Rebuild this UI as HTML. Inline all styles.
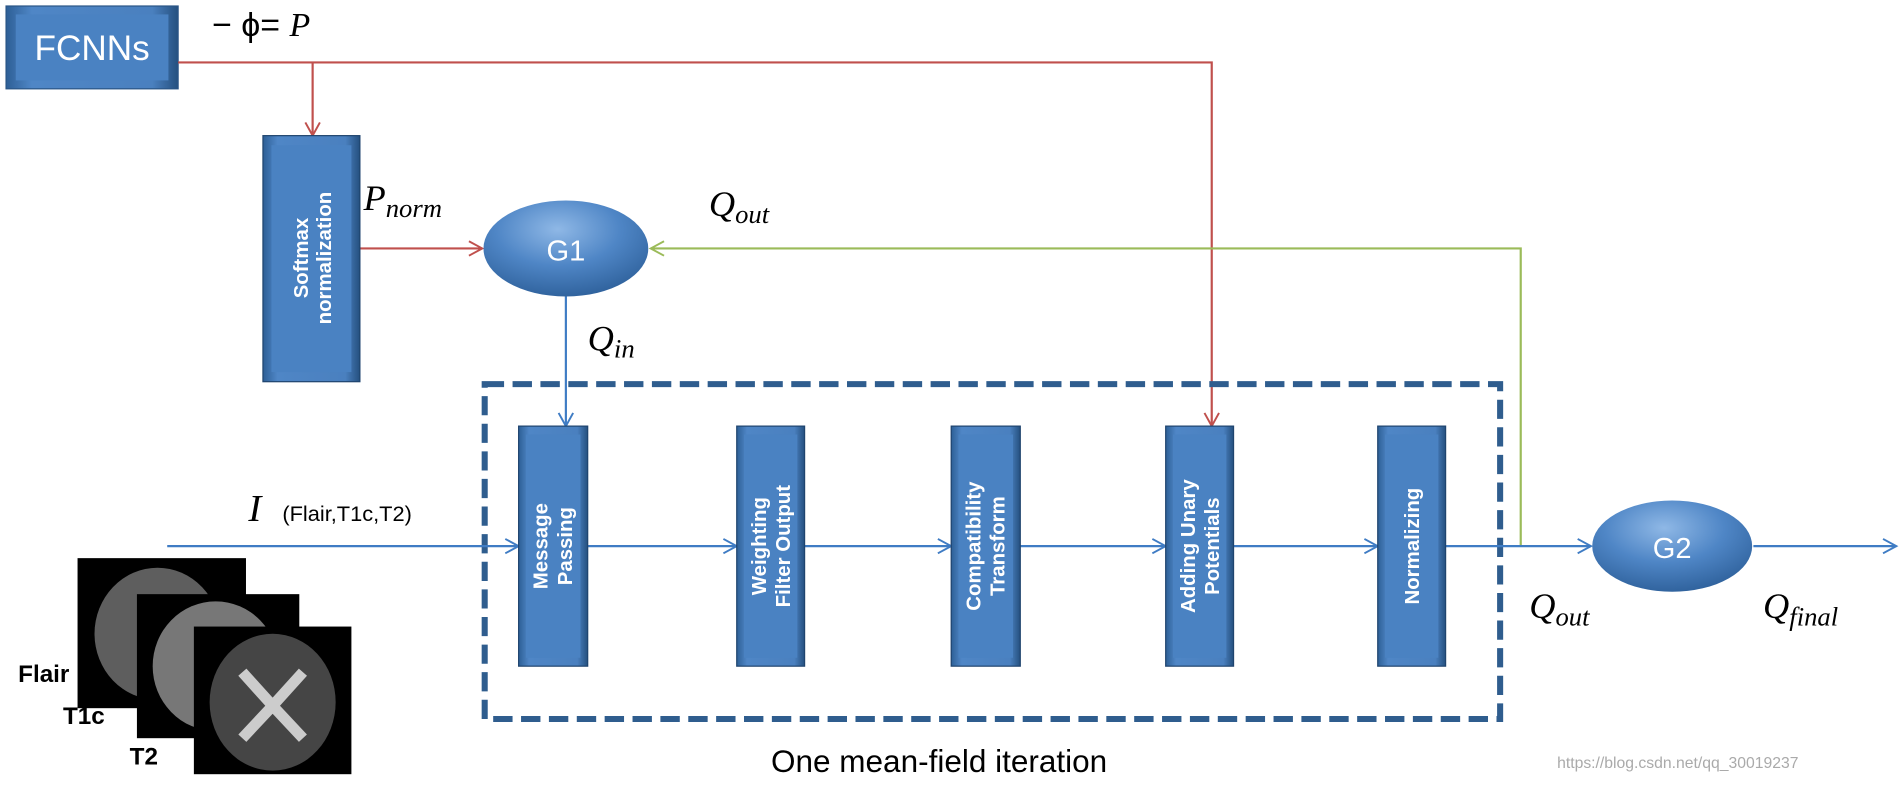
<!DOCTYPE html>
<html><head><meta charset="utf-8"><style>
html,body{margin:0;padding:0;background:#fff;}
svg{display:block;}
text{font-family:"Liberation Sans",sans-serif;}
.m{font-family:"Liberation Serif",serif;font-style:italic;}
.bt{fill:#fff;font-weight:bold;font-size:17px;}
</style></head><body>
<svg width="1900" height="785" viewBox="0 0 1568 654" preserveAspectRatio="none" xmlns="http://www.w3.org/2000/svg">
<defs>
<linearGradient id="bx" x1="0" y1="0" x2="1" y2="0">
<stop offset="0" stop-color="#2d5f96"/><stop offset="0.15" stop-color="#4f86c6"/><stop offset="0.85" stop-color="#4a80bf"/><stop offset="1" stop-color="#25507f"/>
</linearGradient>
<radialGradient id="el" cx="0.45" cy="0.3" r="0.75">
<stop offset="0" stop-color="#8fb8e6"/><stop offset="0.5" stop-color="#4f86c6"/><stop offset="1" stop-color="#2c5e98"/>
</radialGradient>
<marker id="ar" markerWidth="14" markerHeight="14" refX="12" refY="7" orient="auto" markerUnits="userSpaceOnUse"><path d="M1,1 L12,7 L1,13" fill="none" stroke="#3f7cc4" stroke-width="1.6"/></marker>
<marker id="arr" markerWidth="14" markerHeight="14" refX="12" refY="7" orient="auto" markerUnits="userSpaceOnUse"><path d="M1,1 L12,7 L1,13" fill="none" stroke="#c0504d" stroke-width="1.6"/></marker>
<marker id="arg" markerWidth="14" markerHeight="14" refX="12" refY="7" orient="auto" markerUnits="userSpaceOnUse"><path d="M1,1 L12,7 L1,13" fill="none" stroke="#9bbb59" stroke-width="1.6"/></marker>
</defs>

<rect x="5" y="5" width="142" height="69" fill="url(#bx)" stroke="#2a5586"/>
<rect x="13" y="12" width="126" height="55" fill="#4a82c2"/>
<text x="76" y="50" text-anchor="middle" fill="#fff" font-size="29">FCNNs</text>
<text x="175" y="30" font-size="28" fill="#000">− ϕ= <tspan class="m">P</tspan></text>

<polyline points="147,52 1000,52 1000,355" fill="none" stroke="#c0504d" stroke-width="1.8" marker-end="url(#arr)"/>
<line x1="258" y1="52" x2="258" y2="113" stroke="#c0504d" stroke-width="1.8" marker-end="url(#arr)"/>
<line x1="297" y1="207" x2="398" y2="207" stroke="#c0504d" stroke-width="1.8" marker-end="url(#arr)"/>

<rect x="217" y="113" width="80" height="205" fill="url(#bx)" stroke="#1f446e"/>
<rect x="224" y="121" width="66" height="189" fill="#4a82c2"/>
<text transform="translate(257,215) rotate(-90)" text-anchor="middle" class="bt" font-size="15"><tspan x="0" dy="-3">Softmax</tspan><tspan x="0" dy="19">normalization</tspan></text>

<text x="300" y="175" class="m" font-size="30">P<tspan font-size="22" dy="6">norm</tspan></text>
<text x="585" y="180" class="m" font-size="30">Q<tspan font-size="22" dy="6">out</tspan></text>

<polyline points="1255,455 1255,207 537,207" fill="none" stroke="#9bbb59" stroke-width="1.8" marker-end="url(#arg)"/>

<ellipse cx="467" cy="207" rx="68" ry="40" fill="url(#el)"/>
<text x="467" y="217" text-anchor="middle" fill="#fff" font-size="24">G1</text>

<line x1="467" y1="247" x2="467" y2="355" stroke="#3f7cc4" stroke-width="1.8" marker-end="url(#ar)"/>
<text x="485" y="292" class="m" font-size="30">Q<tspan font-size="22" dy="6">in</tspan></text>

<rect x="400" y="320" width="838" height="279" fill="none" stroke="#2f5d8e" stroke-width="5" stroke-dasharray="16,7"/>

<line x1="138" y1="455" x2="428" y2="455" stroke="#3f7cc4" stroke-width="1.8" marker-end="url(#ar)"/>
<line x1="485" y1="455" x2="608" y2="455" stroke="#3f7cc4" stroke-width="1.8" marker-end="url(#ar)"/>
<line x1="664" y1="455" x2="785" y2="455" stroke="#3f7cc4" stroke-width="1.8" marker-end="url(#ar)"/>
<line x1="842" y1="455" x2="962" y2="455" stroke="#3f7cc4" stroke-width="1.8" marker-end="url(#ar)"/>
<line x1="1018" y1="455" x2="1137" y2="455" stroke="#3f7cc4" stroke-width="1.8" marker-end="url(#ar)"/>
<line x1="1193" y1="455" x2="1313" y2="455" stroke="#3f7cc4" stroke-width="1.8" marker-end="url(#ar)"/>
<line x1="1447" y1="455" x2="1565" y2="455" stroke="#3f7cc4" stroke-width="1.8" marker-end="url(#ar)"/>

<g>
<rect x="428" y="355" width="57" height="200" fill="url(#bx)" stroke="#1f446e"/><rect x="434" y="362" width="45" height="186" fill="#4a82c2"/>
<text transform="translate(456,455) rotate(-90)" text-anchor="middle" class="bt"><tspan x="0" dy="-4">Message</tspan><tspan x="0" dy="20">Passing</tspan></text>
<rect x="608" y="355" width="56" height="200" fill="url(#bx)" stroke="#1f446e"/><rect x="614" y="362" width="44" height="186" fill="#4a82c2"/>
<text transform="translate(636,455) rotate(-90)" text-anchor="middle" class="bt"><tspan x="0" dy="-4">Weighting</tspan><tspan x="0" dy="20">Filter Output</tspan></text>
<rect x="785" y="355" width="57" height="200" fill="url(#bx)" stroke="#1f446e"/><rect x="791" y="362" width="45" height="186" fill="#4a82c2"/>
<text transform="translate(813,455) rotate(-90)" text-anchor="middle" class="bt"><tspan x="0" dy="-4">Compatibility</tspan><tspan x="0" dy="20">Transform</tspan></text>
<rect x="962" y="355" width="56" height="200" fill="url(#bx)" stroke="#1f446e"/><rect x="968" y="362" width="44" height="186" fill="#4a82c2"/>
<text transform="translate(990,455) rotate(-90)" text-anchor="middle" class="bt"><tspan x="0" dy="-4">Adding Unary</tspan><tspan x="0" dy="20">Potentials</tspan></text>
<rect x="1137" y="355" width="56" height="200" fill="url(#bx)" stroke="#1f446e"/><rect x="1143" y="362" width="44" height="186" fill="#4a82c2"/>
<text transform="translate(1165,455) rotate(-90)" text-anchor="middle" class="bt"><tspan x="0" dy="6">Normalizing</tspan></text>
</g>

<ellipse cx="1380" cy="455" rx="66" ry="38" fill="url(#el)"/>
<text x="1380" y="465" text-anchor="middle" fill="#fff" font-size="24">G2</text>
<text x="1262" y="515" class="m" font-size="30">Q<tspan font-size="22" dy="6">out</tspan></text>
<text x="1455" y="515" class="m" font-size="30">Q<tspan font-size="22" dy="6">final</tspan></text>

<text x="205" y="434" class="m" font-size="32">I</text>
<text x="233" y="434" font-size="18">(Flair,T1c,T2)</text>

<text x="15" y="568" font-size="20" font-weight="bold">Flair</text>
<rect x="64" y="465" width="139" height="125" fill="#000"/>
<ellipse cx="130" cy="528" rx="52" ry="55" fill="#5e5e5e"/>
<rect x="113" y="495" width="134" height="120" fill="#000"/>
<ellipse cx="178" cy="555" rx="52" ry="54" fill="#777"/>
<rect x="160" y="522" width="130" height="123" fill="#000"/>
<ellipse cx="225" cy="585" rx="52" ry="57" fill="#454545"/>
<path d="M200,560 L225,588 L250,560 M200,615 L225,588 L250,615" stroke="#ccc" stroke-width="9" fill="none"/>
<text x="52" y="603" font-size="20" font-weight="bold">T1c</text>
<text x="107" y="637" font-size="20" font-weight="bold">T2</text>

<text x="775" y="643" text-anchor="middle" font-size="26">One mean-field iteration</text>
<text x="1285" y="640" font-size="13" fill="#aaa" font-family="Liberation Mono,monospace">https://blog.csdn.net/qq_30019237</text>
</svg>
</body></html>
